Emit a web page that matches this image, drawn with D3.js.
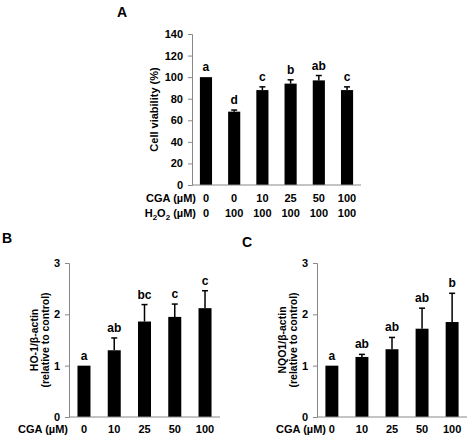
<!DOCTYPE html>
<html>
<head>
<meta charset="utf-8">
<script src="https://cdn.jsdelivr.net/npm/d3@7"></script>
<style>
  body { margin: 0; background: #fff; }
  text { font-family: "Liberation Sans", Arial, sans-serif; font-weight: bold; }
</style>
</head>
<body>
<div class="fig"></div>
<script>
// panel A: cell viability
const cgaA = ["0", "0", "10", "25", "50", "100"]
const h2o2A = ["0", "100", "100", "100", "100", "100"]
const viability = [100, 68, 88, 94, 97, 88]
const viabilityErr = [0, 1.5, 3, 3.5, 4.5, 3]
const viabilityLetters = ["a", "d", "c", "b", "ab", "c"]
const ticksA = [0, 20, 40, 60, 80, 100, 120, 140]

// panels B and C: protein expression
const cgaDoses = ["0", "10", "25", "50", "100"]
const ho1 = [1.0, 1.3, 1.86, 1.95, 2.12]
const ho1Err = [0, 0.24, 0.33, 0.25, 0.34]
const ho1Letters = ["a", "ab", "bc", "c", "c"]
const nqo1 = [1.0, 1.17, 1.32, 1.72, 1.85]
const nqo1Err = [0, 0.05, 0.23, 0.4, 0.56]
const nqo1Letters = ["a", "ab", "ab", "ab", "b"]
const ticksBC = [0, 1, 2, 3]

const svg = d3.select(".fig").append("svg")
    .attr("width", 469)
    .attr("height", 440)

function panel(opts) {
    const x = d3.scaleBand()
        .domain(d3.range(opts.values.length))
        .range(opts.xRange)
        .paddingInner(0.57)
        .paddingOuter(0.28)
    const y = d3.scaleLinear()
        .domain(opts.yDomain)
        .range(opts.yRange)

    const g = svg.append("g")

    // bars
    g.selectAll(".bar").data(opts.values).join("rect")
        .attr("class", "bar")
        .attr("x", (d, i) => x(i))
        .attr("width", x.bandwidth())
        .attr("y", d => y(d))
        .attr("height", d => y(0) - y(d))
        .attr("fill", "#000")

    // error bars (upper only)
    opts.values.forEach((d, i) => {
        const cx = x(i) + x.bandwidth() / 2
        const top = y(d + opts.errs[i])
        if (opts.errs[i] > 0) {
            g.append("line")
                .attr("x1", cx).attr("x2", cx)
                .attr("y1", y(d)).attr("y2", top)
                .attr("stroke", "#000").attr("stroke-width", 1.5)
            g.append("line")
                .attr("x1", cx - 3).attr("x2", cx + 3)
                .attr("y1", top).attr("y2", top)
                .attr("stroke", "#000").attr("stroke-width", 1.5)
        }
        g.append("text")
            .attr("x", cx)
            .attr("y", top - 6)
            .attr("text-anchor", "middle")
            .attr("font-size", "12px")
            .text(opts.letters[i])
    })

    // y axis
    const yAxis = d3.axisLeft(y).tickValues(opts.ticks).tickFormat(d3.format("d"))
        .tickSize(4).tickPadding(5)
    const ya = g.append("g")
        .attr("transform", `translate(${opts.xRange[0]},0)`)
        .call(yAxis)
    ya.selectAll("path, line").attr("stroke", "#888")
    ya.selectAll("text")
        .attr("font-size", "11px")
        .attr("font-family", '"Liberation Sans", Arial, sans-serif')
        .attr("font-weight", "bold")
        .attr("fill", "#000")

    // x axis baseline
    const xa = g.append("g")
        .attr("transform", `translate(0,${y(0)})`)
        .call(d3.axisBottom(x).tickSize(0).tickFormat(""))
    xa.select(".domain").attr("stroke", "#888")
        .attr("d", `M${opts.xRange[0]},0H${opts.xRange[1]}`)

    // category rows
    opts.rows.forEach(row => {
        row.labels.forEach((t, i) => {
            g.append("text")
                .attr("x", x(i) + x.bandwidth() / 2)
                .attr("y", row.y)
                .attr("text-anchor", "middle")
                .attr("font-size", "11px")
                .text(t)
        })
    })

    return { x, y, g }
}

// ---- A ----
panel({
    values: viability, errs: viabilityErr, letters: viabilityLetters,
    xRange: [192, 361], yRange: [185, 34], yDomain: [0, 140], ticks: ticksA,
    rows: [{ labels: cgaA, y: 202 }, { labels: h2o2A, y: 217 }]
})
svg.append("text").attr("x", 117).attr("y", 17).attr("font-size", "14px").text("A")
svg.append("text").attr("x", 196).attr("y", 202).attr("text-anchor", "end")
    .attr("font-size", "11px").text("CGA (µM)")
const h2 = svg.append("text").attr("x", 196).attr("y", 217).attr("text-anchor", "end")
    .attr("font-size", "11px")
h2.append("tspan").text("H")
h2.append("tspan").attr("font-size", "8px").attr("dy", 3).text("2")
h2.append("tspan").attr("dy", -3).text("O")
h2.append("tspan").attr("font-size", "8px").attr("dy", 3).text("2")
h2.append("tspan").attr("dy", -3).text(" (µM)")
svg.append("text")
    .attr("transform", "translate(158,109.5) rotate(-90)")
    .attr("text-anchor", "middle")
    .attr("font-size", "11px")
    .text("Cell viability (%)")

// ---- B ----
panel({
    values: ho1, errs: ho1Err, letters: ho1Letters,
    xRange: [69, 220], yRange: [417, 263], yDomain: [0, 3], ticks: ticksBC,
    rows: [{ labels: cgaDoses, y: 433 }]
})
svg.append("text").attr("x", 2).attr("y", 243).attr("font-size", "14px").text("B")
svg.append("text").attr("x", 68).attr("y", 433).attr("text-anchor", "end")
    .attr("font-size", "11px").text("CGA (µM)")
const lbB = svg.append("text")
    .attr("transform", "translate(38,340) rotate(-90)")
    .attr("text-anchor", "middle")
    .attr("font-size", "10.5px")
lbB.append("tspan").attr("x", 0).text("HO-1/β-actin")
lbB.append("tspan").attr("x", 0).attr("dy", 11).text("(relative to control)")

// ---- C ----
panel({
    values: nqo1, errs: nqo1Err, letters: nqo1Letters,
    xRange: [317, 467], yRange: [417, 263], yDomain: [0, 3], ticks: ticksBC,
    rows: [{ labels: cgaDoses, y: 433 }]
})
svg.append("text").attr("x", 242).attr("y", 247).attr("font-size", "14px").text("C")
svg.append("text").attr("x", 326).attr("y", 433).attr("text-anchor", "end")
    .attr("font-size", "11px").text("CGA (µM)")
const lbC = svg.append("text")
    .attr("transform", "translate(286,340) rotate(-90)")
    .attr("text-anchor", "middle")
    .attr("font-size", "10.5px")
lbC.append("tspan").attr("x", 0).text("NQO1/β-actin")
lbC.append("tspan").attr("x", 0).attr("dy", 11).text("(relative to control)")
</script>
</body>
</html>
